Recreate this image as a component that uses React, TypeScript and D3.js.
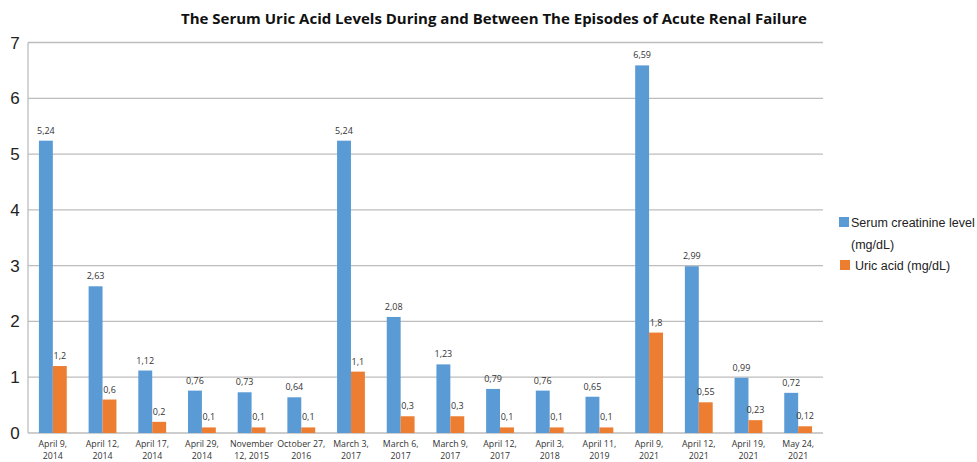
import React, { useEffect, useRef } from 'react';
import * as d3 from 'd3';

const dates = [
  ['April 9,', '2014'], ['April 12,', '2014'], ['April 17,', '2014'], ['April 29,', '2014'],
  ['November', '12, 2015'], ['October 27,', '2016'], ['March 3,', '2017'], ['March 6,', '2017'],
  ['March 9,', '2017'], ['April 12,', '2017'], ['April 3,', '2018'], ['April 11,', '2019'],
  ['April 9,', '2021'], ['April 12,', '2021'], ['April 19,', '2021'], ['May 24,', '2021'],
];
const creatinine = [5.24, 2.63, 1.12, 0.76, 0.73, 0.64, 5.24, 2.08, 1.23, 0.79, 0.76, 0.65, 6.59, 2.99, 0.99, 0.72];
const uricAcid = [1.2, 0.6, 0.2, 0.1, 0.1, 0.1, 1.1, 0.3, 0.3, 0.1, 0.1, 0.1, 1.8, 0.55, 0.23, 0.12];
const yTicks = [0, 1, 2, 3, 4, 5, 6, 7];
const seriesNames = ['Serum creatinine level', 'Uric acid (mg/dL)'];
const colors = ['#5b9bd5', '#ed7d31'];

const fmt = (v: number) => String(v).replace('.', ',');

const App = () => {
  const svgRef = useRef<SVGSVGElement>(null);

  useEffect(() => {
    const svg = d3.select(svgRef.current);
    svg.selectAll('*').remove();

    const left = 28, right = 823, top = 42.5, bottom = 433;

    const x = d3.scaleBand<number>()
      .domain(d3.range(dates.length))
      .range([left, right])
      .paddingInner(0.44)
      .paddingOuter(0.22);
    const xs = d3.scaleBand<number>().domain([0, 1]).range([0, x.bandwidth()]);
    const y = d3.scaleLinear().domain([0, 7]).range([bottom, top]);

    svg.append('text')
      .attr('x', 494).attr('y', 24)
      .attr('text-anchor', 'middle')
      .attr('font-family', 'Open Sans, sans-serif')
      .attr('font-weight', 'bold')
      .attr('font-size', 15)
      .attr('fill', '#111')
      .text('The Serum Uric Acid Levels During and Between The Episodes of Acute Renal Failure');

    // gridlines
    svg.append('g').selectAll('line').data(yTicks).join('line')
      .attr('x1', left).attr('x2', right)
      .attr('y1', d => y(d)).attr('y2', d => y(d))
      .attr('stroke', '#bdbdbd').attr('stroke-width', 1.3);
    svg.append('line')
      .attr('x1', left).attr('x2', left).attr('y1', top).attr('y2', bottom)
      .attr('stroke', '#bdbdbd').attr('stroke-width', 1.3);

    svg.append('g').selectAll('text').data(yTicks).join('text')
      .attr('x', 15).attr('y', d => y(d) + 6)
      .attr('text-anchor', 'middle')
      .attr('font-family', 'Liberation Sans, Arial, sans-serif')
      .attr('font-size', 17)
      .attr('fill', '#222')
      .text(d => d);

    const series = [creatinine, uricAcid];
    series.forEach((vals, s) => {
      const g = svg.append('g');
      g.selectAll('rect').data(vals).join('rect')
        .attr('x', (_, i) => x(i)! + xs(s)!)
        .attr('width', xs.bandwidth())
        .attr('y', d => y(d))
        .attr('height', d => bottom - y(d))
        .attr('fill', colors[s]);
      g.selectAll('text').data(vals).join('text')
        .attr('x', (_, i) => x(i)! + xs(s)! + xs.bandwidth() / 2)
        .attr('y', d => y(d) - 7)
        .attr('text-anchor', 'middle')
        .attr('font-family', 'Open Sans, sans-serif')
        .attr('font-size', 9)
        .attr('fill', '#333')
        .text(d => fmt(d));
    });

    const xl = svg.append('g').selectAll('text').data(dates).join('text')
      .attr('text-anchor', 'middle')
      .attr('font-family', 'Open Sans, sans-serif')
      .attr('font-size', 8.8)
      .attr('fill', '#333');
    xl.append('tspan')
      .attr('x', (_, i) => x(i)! + x.bandwidth() / 2)
      .attr('y', 447)
      .text(d => d[0]);
    xl.append('tspan')
      .attr('x', (_, i) => x(i)! + x.bandwidth() / 2)
      .attr('y', 458.5)
      .text(d => d[1]);

    // legend
    const lg = svg.append('g')
      .attr('font-family', 'Liberation Sans, Arial, sans-serif')
      .attr('font-size', 12.5)
      .attr('fill', '#222');
    lg.append('rect').attr('x', 839).attr('y', 217).attr('width', 10).attr('height', 10).attr('fill', colors[0]);
    lg.append('text').attr('x', 851).attr('y', 227).text(seriesNames[0]);
    lg.append('text').attr('x', 851).attr('y', 249).text('(mg/dL)');
    lg.append('rect').attr('x', 840).attr('y', 260).attr('width', 10).attr('height', 10).attr('fill', colors[1]);
    lg.append('text').attr('x', 855).attr('y', 270).text(seriesNames[1]);
  }, []);

  return (
    <svg ref={svgRef} width={977} height={462}
      style={{ position: 'absolute', left: 0, top: 0, background: '#fff' }} />
  );
};

export default App;
